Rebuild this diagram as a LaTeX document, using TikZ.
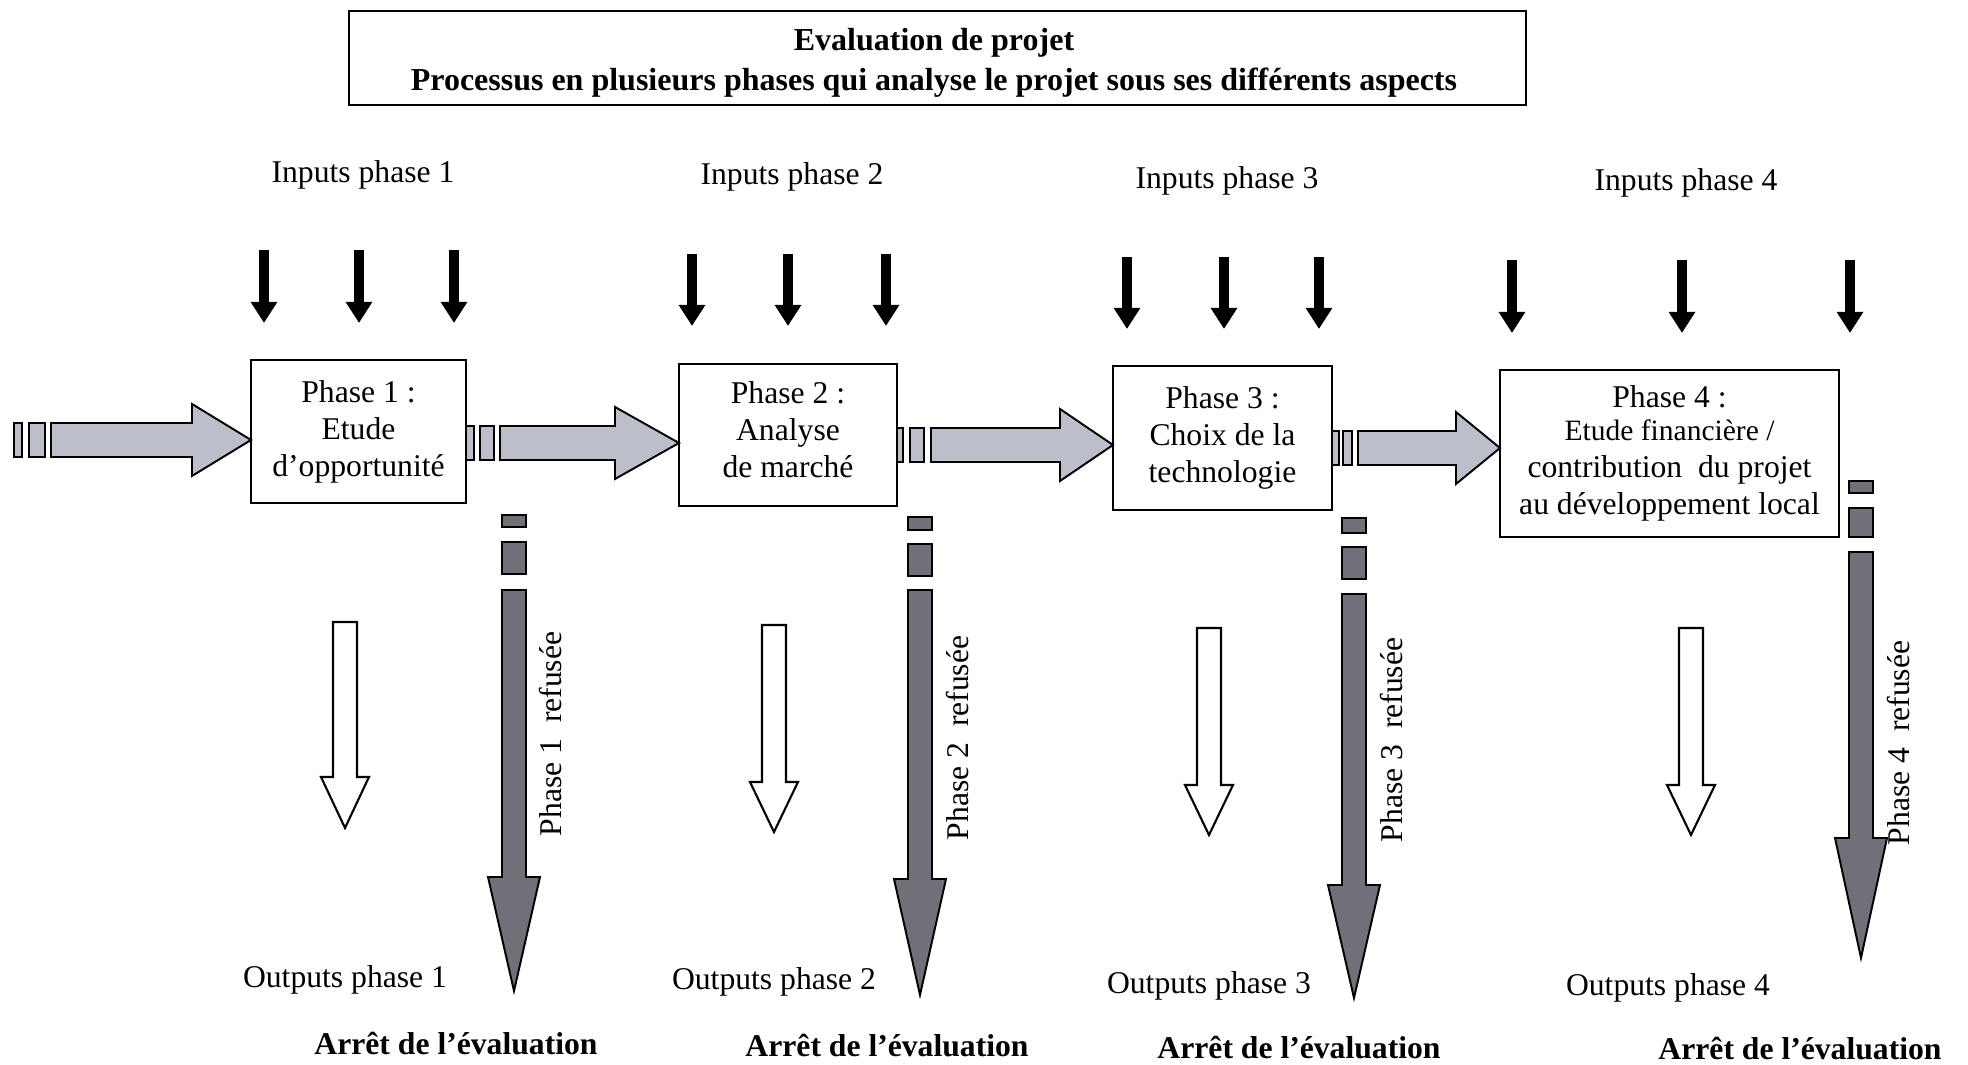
\documentclass[tikz,border=0pt]{standalone}
\usepackage{fontspec}
\setmainfont{Liberation Serif}
\usetikzlibrary{arrows.meta}
\definecolor{lightgrid}{RGB}{188,190,202}
\definecolor{darkgrid}{RGB}{112,112,120}
\tikzset{
  phasebox/.style={draw, line width=0.6pt, align=center, inner sep=0pt,
    font=\fontsize{9}{10.5}\selectfont},
  light hatch/.style={draw, line width=0.55pt, fill=lightgrid},
  dark hatch/.style={draw, line width=0.55pt, fill=darkgrid},
  out arrow/.style={draw, line width=0.6pt, fill=white},
  in arrow/.style={line width=3.1pt, -{Triangle[width=7.2pt,length=6pt]}},
  lbl/.style={inner sep=0pt, font=\fontsize{9}{10.8}\selectfont},
  bold lbl/.style={inner sep=0pt, font=\fontsize{9}{10.8}\selectfont\bfseries}
}
\begin{document}
\begin{tikzpicture}[x=0.01cm,y=-0.01cm]
\useasboundingbox (0,0) rectangle (1968,1065);

\node[draw, line width=0.6pt, minimum width=11.77cm, minimum height=0.94cm] (title) at (937.5,58) {};
\node[align=center, inner sep=0pt, font=\fontsize{9.1}{11.4}\selectfont\bfseries] (titletext) at (934,63)
  {Evaluation de projet\\Processus en plusieurs phases qui analyse le projet sous ses différents aspects};

% phases
\node[phasebox, minimum width=2.15cm, minimum height=1.43cm] (p1) at (358.5,431.5)
  {Phase 1 :\\Etude\\d’opportunité};
\node[phasebox, minimum width=2.18cm, minimum height=1.42cm] (p2) at (788,435) {};
\node[phasebox, draw=none] (p2text) at (788,430) {Phase 2 :\\Analyse\\de marché};
\node[phasebox, minimum width=2.19cm, minimum height=1.44cm] (p3) at (1222.5,438)
  {Phase 3 :\\Choix de la\\technologie};
\node[phasebox, minimum width=3.39cm, minimum height=1.67cm] (p4) at (1669.5,453.5)
  {Phase 4 :\\[-1pt]\fontsize{8.4}{9.7}\selectfont Etude financière /\\contribution\ \ du projet\\au développement local};

% inputs
\foreach \n/\x/\y in {1/363/175, 2/792/177, 3/1227/181, 4/1686/183}
  \node[lbl] (in\n) at (\x,\y) {Inputs phase \n};
\foreach \x/\a/\b in {264/250/323, 359/250/323, 454/250/323,
                      692/254/326, 788/254/326, 886/254/326,
                      1127/257/329, 1224/257/329, 1319/257/329,
                      1512/260/333, 1682/260/333, 1850/260/333}
  \draw[in arrow] (\x,\a) -- (\x,\b);

% flow between phases
\foreach \a/\b/\c/\d/\e/\f/\g/\y in {14/22/29/45/51/192/251/440,
    466/474/480/494/500/615/679/443,
    897/903/910/924/931/1060/1113/445,
    1332/1339/1343/1352/1358/1456/1500/448}{
  \draw[light hatch] (\a,\y-17) rectangle (\b,\y+17);
  \draw[light hatch] (\c,\y-17) rectangle (\d,\y+17);
  \draw[light hatch] (\e,\y-17) -- (\f,\y-17) -- (\f,\y-36) -- (\g,\y)
    -- (\f,\y+36) -- (\f,\y+17) -- (\e,\y+17) -- cycle;
}

% outputs
\foreach \x/\a/\b/\t in {345/622/777/828, 774/625/782/832,
                         1209/628/785/835, 1691/628/785/835}
  \draw[out arrow] (\x-12,\a) -- (\x+12,\a) -- (\x+12,\b) -- (\x+24,\b) -- (\x,\t)
    -- (\x-24,\b) -- (\x-12,\b) -- cycle;
\foreach \n/\x/\y in {1/345/980, 2/774/982, 3/1209/986, 4/1668/988}
  \node[lbl] (out\n) at (\x,\y) {Outputs phase \n};

% refused
\foreach \x/\a/\b/\c/\d/\e/\f/\t in {514/515/527/542/574/590/877/991,
    920/517/530/544/576/590/879/995,
    1354/518/533/547/579/594/885/998,
    1861/481/493/508/537/552/838/958}{
  \draw[dark hatch] (\x-12,\a) rectangle (\x+12,\b);
  \draw[dark hatch] (\x-12,\c) rectangle (\x+12,\d);
  \draw[dark hatch] (\x-12,\e) -- (\x+12,\e) -- (\x+12,\f) -- (\x+26,\f) -- (\x,\t)
    -- (\x-26,\f) -- (\x-12,\f) -- cycle;
}
\foreach \n/\x/\y in {1/551/734, 2/958/738, 3/1392/740, 4/1899/743}
  \node[lbl, rotate=90] (ref\n) at (\x,\y) {Phase \n\ \ refusée};
\foreach \n/\x/\y in {1/456/1044, 2/887/1046, 3/1299/1048, 4/1800/1049}
  \node[bold lbl] (stop\n) at (\x,\y) {Arrêt de l’évaluation};
\end{tikzpicture}
\end{document}
